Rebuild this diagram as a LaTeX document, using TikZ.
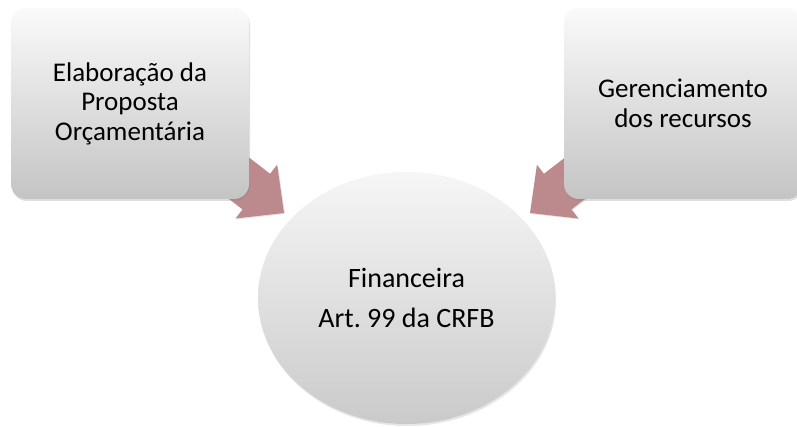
\documentclass[tikz,border=0pt]{standalone}
\usepackage{fontspec}
\setmainfont{Carlito}
\usepackage{xcolor}
\usepackage{tikz}
\usetikzlibrary{calc}
\usetikzlibrary{shapes.geometric}
\usetikzlibrary{shadows}
\usetikzlibrary{backgrounds}
\definecolor{boxtop}{HTML}{FAFAFA}
\definecolor{boxbottom}{HTML}{C4C4C4}
\definecolor{hubtop}{HTML}{F6F6F6}
\definecolor{hubbottom}{HTML}{CACACA}
\definecolor{arrowrose}{HTML}{BC8A8C}

\begin{document}
\begin{tikzpicture}[x=1pt,y=1pt,
	stage/.style={rectangle,rounded corners=15pt,minimum width=238pt,minimum height=191pt,
		top color=boxtop,bottom color=boxbottom,align=center,
		font=\fontsize{27}{29.5}\selectfont,
		drop shadow={opacity=0.25,shadow xshift=1pt,shadow yshift=-2pt}},
	hub/.style={ellipse,minimum width=297pt,minimum height=252pt,inner sep=0pt,
		top color=hubtop,bottom color=hubbottom,align=center,
		font=\fontsize{28}{40}\selectfont\frenchspacing,
		drop shadow={opacity=0.2,shadow xshift=1pt,shadow yshift=-2pt}},
	flow/.style={fill=arrowrose,drop shadow={opacity=0.2,shadow xshift=1pt,shadow yshift=-1pt}}]
	\useasboundingbox (0,0) rectangle (797,426);
	\clip (0,0) rectangle (797,426);
	\node[stage] (plan) at (130,322.5) {Elaboração da\\Proposta\\Orçamentária};
	\node[stage] (manage) at (683,322.5) {Gerenciamento\\dos recursos};
	\node[hub] (fin) at (406.5,128) {Financeira\\Art. 99 da CRFB};
	\coordinate (tipL) at ($(fin.center)+(-122.5,85)$);
	\coordinate (tipR) at ($(fin.center)+(123.5,85)$);
	% arrows behind the boxes
	\begin{scope}[on background layer]
		\foreach \tip/\ang in {tipL/-37.7, tipR/217.7}
			\fill[flow,shift={(\tip)},rotate=\ang] (0,0) -- (-35,34) -- (-35,22.5) -- (-110,22.5) -- (-110,-22.5) -- (-35,-22.5) -- (-35,-34) -- cycle;
	\end{scope}
\end{tikzpicture}
\end{document}
